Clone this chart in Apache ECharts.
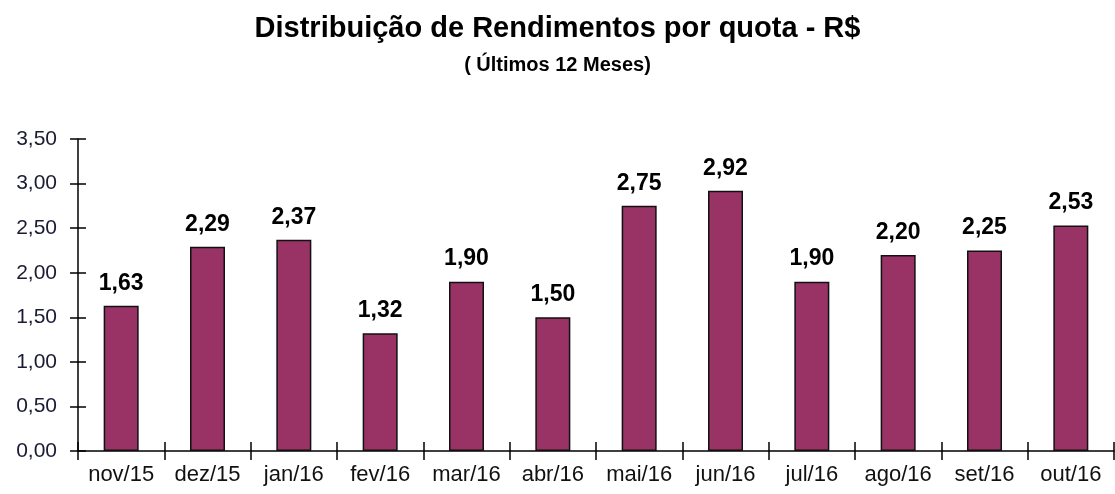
<!DOCTYPE html>
<html>
<head>
<meta charset="utf-8">
<script src="https://cdn.jsdelivr.net/npm/echarts@6/dist/echarts.min.js"></script>
<style>
html,body{margin:0;padding:0;background:#fff;}
#chart{width:1115px;height:494px;}
</style>
</head>
<body>
<div id="chart"></div>
<script>
// rendimentos por quota
var meses = ['nov/15', 'dez/15', 'jan/16', 'fev/16', 'mar/16', 'abr/16', 'mai/16', 'jun/16', 'jul/16', 'ago/16', 'set/16', 'out/16'];
var rendimentos = [1.63, 2.29, 2.37, 1.32, 1.90, 1.50, 2.75, 2.92, 1.90, 2.20, 2.25, 2.53];
var tituloTxt = 'Distribuição de Rendimentos por quota - R$';
var subtituloTxt = '( Últimos 12 Meses)';

function brl(v) {
    return v.toFixed(2).replace('.', ',');
}

var chart = echarts.init(document.getElementById('chart'));
var fonte = '"Liberation Sans", Arial, sans-serif';
var option = {
    animation: false,
    title: [{
        text: tituloTxt,
        left: 'center',
        top: 9,
        textStyle: {fontFamily: fonte, fontSize: 29, fontWeight: 'bold', color: '#000'}
    }, {
        text: subtituloTxt,
        left: 'center',
        top: 50,
        textStyle: {fontFamily: fonte, fontSize: 20, fontWeight: 'bold', color: '#000'}
    }],
    grid: {left: 78, right: 1, top: 139, bottom: 43, containLabel: false},
    xAxis: [{
        type: 'category',
        data: meses,
        axisLine: {lineStyle: {color: '#000', width: 1.5}},
        axisTick: {show: true, length: 9, lineStyle: {color: '#000', width: 1.5}},
        axisLabel: {interval: 0, hideOverlap: false, fontFamily: fonte, fontSize: 22, color: '#111', margin: 13}
    }, {
        // ticks internos (cruzando o eixo x)
        type: 'category',
        data: meses,
        position: 'bottom',
        axisLine: {show: false},
        axisTick: {show: true, inside: true, length: 9, lineStyle: {color: '#000', width: 1.5}},
        axisLabel: {show: false}
    }],
    yAxis: [{
        type: 'value',
        min: 0,
        max: 3.5,
        interval: 0.5,
        splitLine: {show: false},
        axisLine: {show: true, lineStyle: {color: '#000', width: 1.5}},
        axisTick: {show: true, length: 8, lineStyle: {color: '#000', width: 1.5}},
        axisLabel: {fontFamily: fonte, fontSize: 21, color: '#1a1a33', margin: 21, formatter: brl}
    }, {
        // ticks internos (cruzando o eixo)
        type: 'value',
        position: 'left',
        min: 0,
        max: 3.5,
        interval: 0.5,
        splitLine: {show: false},
        axisLine: {show: false},
        axisTick: {show: true, inside: true, length: 8, lineStyle: {color: '#000', width: 1.5}},
        axisLabel: {show: false}
    }],
    series: [{
        type: 'bar',
        data: rendimentos,
        barWidth: 35,
        itemStyle: {color: '#993366', borderColor: '#111', borderWidth: 1.5},
        label: {
            show: true,
            position: 'top',
            distance: 11,
            fontFamily: fonte,
            fontSize: 23,
            fontWeight: 'bold',
            color: '#000',
            formatter: function (p) { return brl(p.value); }
        }
    }]
};
chart.setOption(option);
</script>
</body>
</html>
